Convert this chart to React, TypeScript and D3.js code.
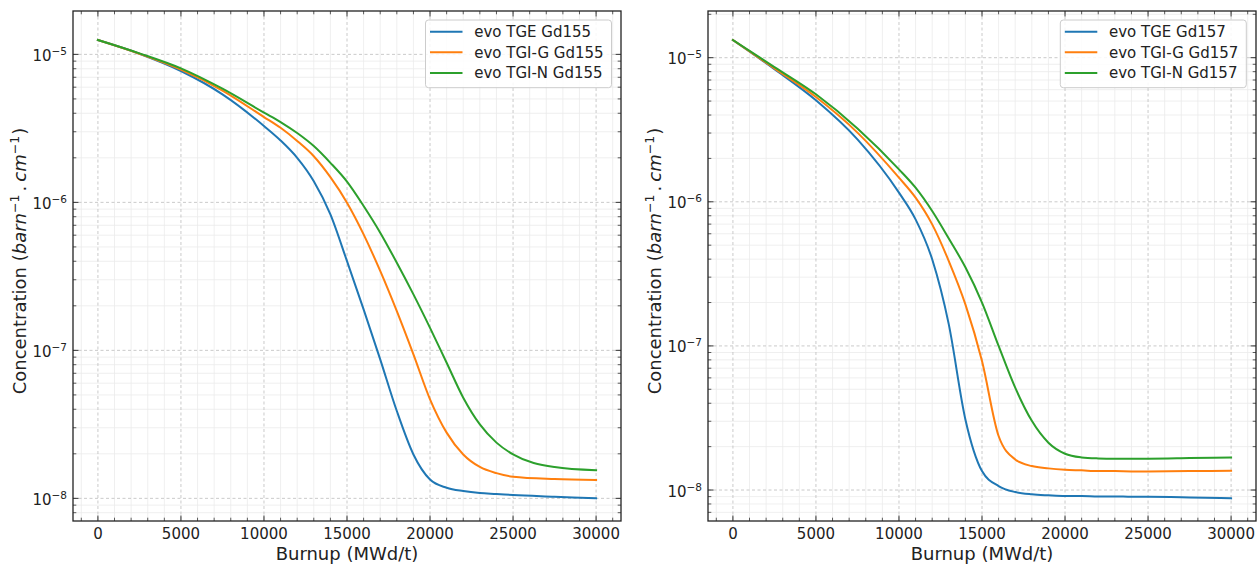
import React from "react";
import * as d3 from "d3";

// ---------- DATA ----------
const burnup = [0, 2500, 5000, 7500, 10000, 11000, 12000, 13000, 14000, 15000, 16000, 17000, 18000, 19000, 20000, 21000, 22000, 23000, 24000, 25000, 27500, 30000];

const tgeGd155 = [1.25e-5, 1.01e-5, 7.72e-6, 5.37e-6, 3.28e-6, 2.62e-6, 2.0e-6, 1.39e-6, 8.3e-7, 4.01e-7, 1.89e-7, 8.7e-8, 3.89e-8, 1.98e-8, 1.34e-8, 1.18e-8, 1.12e-8, 1.086e-8, 1.07e-8, 1.053e-8, 1.026e-8, 1.0e-8];
const tgiGGd155 = [1.25e-5, 1.01e-5, 7.88e-6, 5.69e-6, 3.77e-6, 3.19e-6, 2.6e-6, 2.05e-6, 1.48e-6, 9.95e-7, 6.08e-7, 3.44e-7, 1.84e-7, 9.4e-8, 4.67e-8, 2.78e-8, 1.98e-8, 1.63e-8, 1.48e-8, 1.4e-8, 1.35e-8, 1.33e-8];
const tgiNGd155 = [1.25e-5, 1.016e-5, 8.04e-6, 5.86e-6, 4.04e-6, 3.49e-6, 2.94e-6, 2.4e-6, 1.85e-6, 1.38e-6, 9.45e-7, 6.24e-7, 3.91e-7, 2.39e-7, 1.42e-7, 8.25e-8, 4.79e-8, 3.16e-8, 2.38e-8, 1.98e-8, 1.63e-8, 1.55e-8];

const tgeGd157 = [1.326e-5, 8.32e-6, 5.06e-6, 2.71e-6, 1.157e-6, 7.55e-7, 3.99e-7, 1.41e-7, 3.09e-8, 1.353e-8, 1.065e-8, 9.68e-9, 9.33e-9, 9.18e-9, 9.08e-9, 9.08e-9, 9.03e-9, 9.03e-9, 8.98e-9, 8.98e-9, 8.89e-9, 8.75e-9];
const tgiGGd157 = [1.326e-5, 8.43e-6, 5.33e-6, 3.02e-6, 1.47e-6, 1.068e-6, 6.97e-7, 3.88e-7, 1.94e-7, 7.85e-8, 2.37e-8, 1.63e-8, 1.466e-8, 1.413e-8, 1.383e-8, 1.369e-8, 1.353e-8, 1.353e-8, 1.346e-8, 1.346e-8, 1.353e-8, 1.36e-8];
const tgiNGd157 = [1.326e-5, 8.61e-6, 5.57e-6, 3.23e-6, 1.68e-6, 1.253e-6, 8.63e-7, 5.56e-7, 3.51e-7, 2.0e-7, 1.0e-7, 5.13e-8, 3.02e-8, 2.13e-8, 1.786e-8, 1.684e-8, 1.657e-8, 1.649e-8, 1.649e-8, 1.649e-8, 1.665e-8, 1.684e-8];

const labels155 = ["evo TGE Gd155", "evo TGI-G Gd155", "evo TGI-N Gd155"];
const labels157 = ["evo TGE Gd157", "evo TGI-G Gd157", "evo TGI-N Gd157"];

const xTicks = [0, 5000, 10000, 15000, 20000, 25000, 30000];
const yTickExponents = [-5, -6, -7, -8];
const xLabel = "Burnup (MWd/t)";

const colors = ["#1f77b4", "#ff7f0e", "#2ca02c"];

const FONT = "DejaVu Sans, Verdana, sans-serif";

type PanelProps = {
  x0: number;
  x1: number;
  y0: number;
  y1: number;
  logLo: number;
  logHi: number;
  series: number[][];
  labels: string[];
  legendX: number;
};

function Panel({ x0, x1, y0, y1, logLo, logHi, series, labels, legendX }: PanelProps) {
  const xs = d3.scaleLinear().domain([-1500, 31500]).range([x0, x1]);
  const ys = d3.scaleLog().domain([10 ** logLo, 10 ** logHi]).range([y1, y0]);

  const minorX = d3.range(-1000, 31501, 1000).filter((v) => v % 5000 !== 0 && xs(v) > x0 && xs(v) < x1);
  const minorY: number[] = [];
  for (let e = -10; e <= -4; e++) {
    for (let m = 2; m <= 9; m++) {
      const v = m * Math.pow(10, e);
      const py = ys(v);
      if (py > y0 && py < y1) minorY.push(v);
    }
  }

  const line = d3
    .line<number>()
    .x((_, i) => xs(burnup[i]))
    .y((d) => ys(d))
    .curve(d3.curveMonotoneX);

  const majorLen = 5.5;
  const minorLen = 3.3;
  const tickColor = "#333";

  const cx = (x0 + x1) / 2;
  const cy = (y0 + y1) / 2;

  return (
    <g>
      {/* minor grid */}
      {minorX.map((v) => (
        <line key={"mgx" + v} x1={xs(v)} x2={xs(v)} y1={y0} y2={y1} stroke="#ebebeb" strokeWidth={0.8} />
      ))}
      {minorY.map((v, i) => (
        <line key={"mgy" + i} x1={x0} x2={x1} y1={ys(v)} y2={ys(v)} stroke="#ebebeb" strokeWidth={0.8} />
      ))}
      {/* major grid */}
      {xTicks.map((v) => (
        <line key={"gx" + v} x1={xs(v)} x2={xs(v)} y1={y0} y2={y1} stroke="#bdbdbd" strokeWidth={0.8} strokeDasharray="3,2.5" />
      ))}
      {yTickExponents.map((e) => (
        <line key={"gy" + e} x1={x0} x2={x1} y1={ys(Math.pow(10, e))} y2={ys(Math.pow(10, e))} stroke="#bdbdbd" strokeWidth={0.8} strokeDasharray="3,2.5" />
      ))}

      {/* curves */}
      {series.map((s, i) => (
        <path key={"s" + i} d={line(s) || ""} fill="none" stroke={colors[i]} strokeWidth={2} strokeLinejoin="round" strokeLinecap="square" />
      ))}

      {/* ticks (inward, all sides) */}
      {xTicks.map((v) => (
        <g key={"tx" + v}>
          <line x1={xs(v)} x2={xs(v)} y1={y1} y2={y1 - majorLen} stroke={tickColor} strokeWidth={1} />
          <line x1={xs(v)} x2={xs(v)} y1={y0} y2={y0 + majorLen} stroke={tickColor} strokeWidth={1} />
        </g>
      ))}
      {minorX.map((v) => (
        <g key={"mtx" + v}>
          <line x1={xs(v)} x2={xs(v)} y1={y1} y2={y1 - minorLen} stroke={tickColor} strokeWidth={0.8} />
          <line x1={xs(v)} x2={xs(v)} y1={y0} y2={y0 + minorLen} stroke={tickColor} strokeWidth={0.8} />
        </g>
      ))}
      {yTickExponents.map((e) => {
        const py = ys(Math.pow(10, e));
        return (
          <g key={"ty" + e}>
            <line x1={x0} x2={x0 + majorLen} y1={py} y2={py} stroke={tickColor} strokeWidth={1} />
            <line x1={x1} x2={x1 - majorLen} y1={py} y2={py} stroke={tickColor} strokeWidth={1} />
          </g>
        );
      })}
      {minorY.map((v, i) => (
        <g key={"mty" + i}>
          <line x1={x0} x2={x0 + minorLen} y1={ys(v)} y2={ys(v)} stroke={tickColor} strokeWidth={0.8} />
          <line x1={x1} x2={x1 - minorLen} y1={ys(v)} y2={ys(v)} stroke={tickColor} strokeWidth={0.8} />
        </g>
      ))}

      {/* frame */}
      <rect x={x0} y={y0} width={x1 - x0} height={y1 - y0} fill="none" stroke="#222" strokeWidth={1.3} />

      {/* tick labels */}
      {xTicks.map((v) => (
        <text key={"lx" + v} x={xs(v)} y={y1 + 18} textAnchor="middle" fontSize={15} fill="#222" fontFamily={FONT}>
          {String(v)}
        </text>
      ))}
      {yTickExponents.map((e) => (
        <text key={"ly" + e} x={x0 - 6} y={ys(Math.pow(10, e)) + 6.5} textAnchor="end" fontSize={15} fill="#222" fontFamily={FONT}>
          10
          <tspan dy={-6} fontSize={10.5}>
            {"\u2212" + String(-e)}
          </tspan>
        </text>
      ))}

      {/* axis labels */}
      <text x={cx} y={y1 + 38.5} textAnchor="middle" fontSize={18} fill="#222" fontFamily={FONT}>
        {xLabel}
      </text>
      <text transform={`translate(${x0 - 47},${cy - 5}) rotate(-90)`} textAnchor="middle" fontSize={18} fill="#222" fontFamily={FONT}>
        {"Concentration ("}
        <tspan fontStyle="italic">barn</tspan>
        <tspan dy={-7} fontSize={12.6}>{"\u22121"}</tspan>
        <tspan dy={7} dx={3}>{"."}</tspan>
        <tspan fontStyle="italic" dx={4}>cm</tspan>
        <tspan dy={-7} fontSize={12.6}>{"\u22121"}</tspan>
        <tspan dy={7} dx={1}>{")"}</tspan>
      </text>

      {/* legend */}
      <g>
        <rect x={legendX} y={20} width={186} height={67.7} rx={3} fill="#fff" fillOpacity={0.85} stroke="#cccccc" strokeWidth={1} />
        {labels.map((lab, i) => {
          const ry = 31.7 + i * 20.65;
          return (
            <g key={"lg" + i}>
              <line x1={legendX + 4.5} x2={legendX + 37} y1={ry} y2={ry} stroke={colors[i]} strokeWidth={2} />
              <text x={legendX + 48.7} y={ry + 5.3} fontSize={15} fill="#222" fontFamily={FONT}>
                {lab}
              </text>
            </g>
          );
        })}
      </g>
    </g>
  );
}

export default function App() {
  return (
    <svg width={1260} height={565} style={{ position: "absolute", left: 0, top: 0, background: "#fff" }}>
      <rect x={0} y={0} width={1260} height={565} fill="#fff" />
      <Panel
        x0={73}
        x1={621}
        y0={11}
        y1={521}
        logLo={-8.153}
        logHi={-4.707}
        series={[tgeGd155, tgiGGd155, tgiNGd155]}
        labels={labels155}
        legendX={425.5}
      />
      <Panel
        x0={708}
        x1={1256}
        y0={11}
        y1={521}
        logLo={-8.215}
        logHi={-4.676}
        series={[tgeGd157, tgiGGd157, tgiNGd157]}
        labels={labels157}
        legendX={1060.3}
      />
    </svg>
  );
}
